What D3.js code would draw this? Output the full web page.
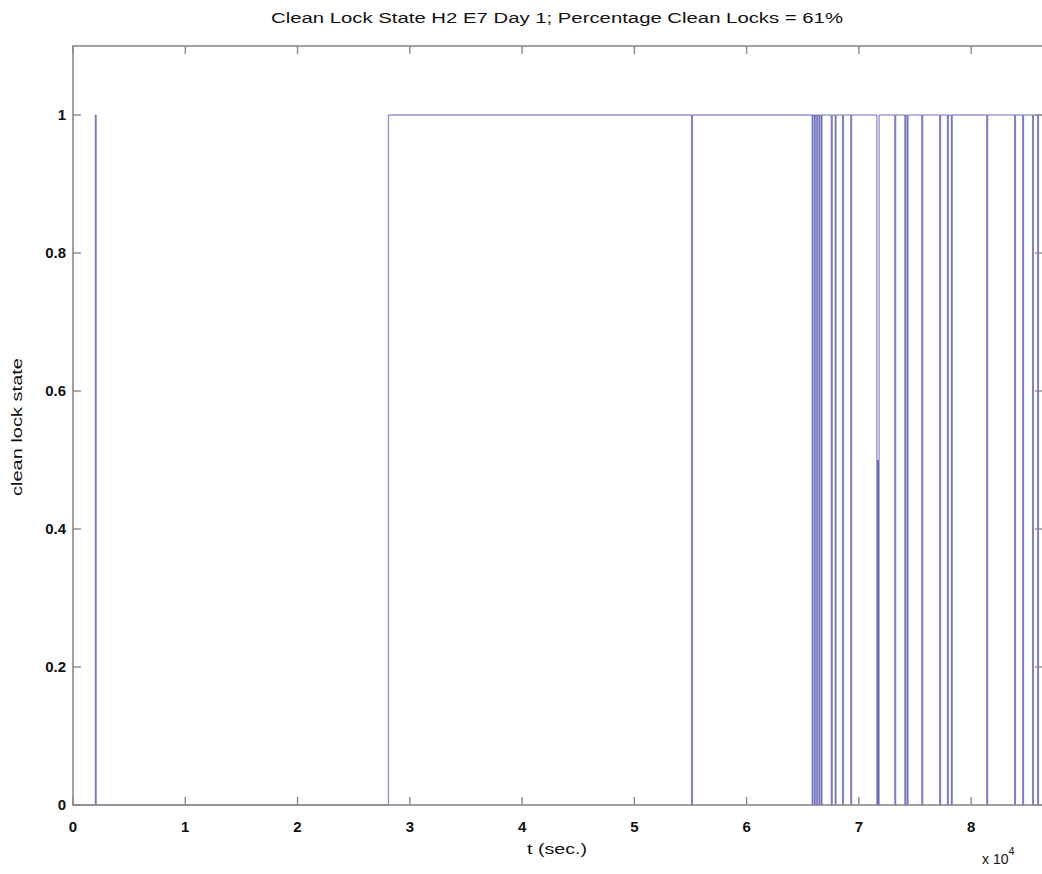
<!DOCTYPE html>
<html>
<head>
<meta charset="utf-8">
<script src="https://cdn.jsdelivr.net/npm/d3@7"></script>
<style>
  html, body { margin: 0; padding: 0; background: #fff; }
  svg { display: block; }
  text { font-family: "Liberation Sans", Arial, Helvetica, sans-serif; fill: #111; }
</style>
</head>
<body>
<svg id="chart" width="1042" height="874"></svg>
<script>
// ---- data ----
const titleText = "Clean Lock State H2 E7 Day 1; Percentage Clean Locks = 61%";
const xLabel = "t (sec.)";
const yLabel = "clean lock state";
const xTicks = [0, 10000, 20000, 30000, 40000, 50000, 60000, 70000, 80000];
const xTickLabels = ["0", "1", "2", "3", "4", "5", "6", "7", "8"];
const yTicks = [0, 0.2, 0.4, 0.6, 0.8, 1];
const yTickLabels = ["0", "0.2", "0.4", "0.6", "0.8", "1"];
// step points: time (s) and clean lock state from that time on
const tTimes = [0, 2000, 2060, 28100, 55100, 55170,
  65850, 65910, 66050, 66110, 66250, 66310, 66450, 66510, 66650, 66710,
  67550, 67630, 67900, 67960, 68550, 68620, 69280, 69340,
  71600, 71700, 71710, 71800,
  73200, 73270, 74090, 74170, 74300, 74380, 75600, 75680,
  77200, 77270, 77900, 77960, 78250, 78310,
  81390, 81460, 83880, 83940, 84600, 84660, 85480, 85540, 85930, 85990, 86400];
const lockState = [0, 1, 0, 1, 0, 1,
  0, 1, 0, 1, 0, 1, 0, 1, 0, 1,
  0, 1, 0, 1, 0, 1, 0, 1,
  0, 0.5, 0, 1,
  0, 1, 0, 1, 0, 1, 0, 1,
  0, 1, 0, 1, 0, 1,
  0, 1, 0, 1, 0, 1, 0, 1, 0, 1, 1];

// ---- layout ----
const svg = d3.select("#chart");
const m = { left: 73, right: 1043, top: 46, bottom: 805 };
const x = d3.scaleLinear().domain([0, 86400]).range([m.left, m.right]);
const y = d3.scaleLinear().domain([0, 1.1]).range([m.bottom, m.top]);

// ---- data line (drawn as individual segments so overlaps darken) ----
const pts = [];
tTimes.forEach((t, i) => {
  if (i > 0) pts.push([t, lockState[i - 1]]);
  pts.push([t, lockState[i]]);
});
const segs = d3.pairs(pts).filter(([a, b]) => !(a[0] === b[0] && a[1] === b[1]));
svg.append("g")
  .selectAll("line")
  .data(segs)
  .join("line")
  .attr("x1", d => x(d[0][0])).attr("y1", d => y(d[0][1]))
  .attr("x2", d => x(d[1][0])).attr("y2", d => y(d[1][1]))
  .attr("stroke", "#2e2e9a")
  .attr("stroke-opacity", 0.5)
  .attr("stroke-width", 1.4);

// ---- axes box ----
const axisColor = "#8a8a8a";
svg.append("rect")
  .attr("x", m.left).attr("y", m.top)
  .attr("width", m.right - m.left).attr("height", m.bottom - m.top)
  .attr("fill", "none").attr("stroke", axisColor).attr("stroke-width", 1.6);

const tickLen = 8;
const gx = svg.append("g");
xTicks.forEach((t, i) => {
  gx.append("line").attr("x1", x(t)).attr("x2", x(t))
    .attr("y1", m.bottom).attr("y2", m.bottom - tickLen)
    .attr("stroke", axisColor).attr("stroke-width", 1.4);
  gx.append("line").attr("x1", x(t)).attr("x2", x(t))
    .attr("y1", m.top).attr("y2", m.top + tickLen)
    .attr("stroke", axisColor).attr("stroke-width", 1.4);
  gx.append("text").attr("x", x(t)).attr("y", 832)
    .attr("text-anchor", "middle").attr("font-size", 15)
    .attr("font-weight", "bold")
    .text(xTickLabels[i]);
});
const gy = svg.append("g");
yTicks.forEach((v, i) => {
  gy.append("line").attr("x1", m.left).attr("x2", m.left + tickLen)
    .attr("y1", y(v)).attr("y2", y(v))
    .attr("stroke", axisColor).attr("stroke-width", 1.4);
  gy.append("line").attr("x1", m.right).attr("x2", m.right - tickLen)
    .attr("y1", y(v)).attr("y2", y(v))
    .attr("stroke", axisColor).attr("stroke-width", 1.4);
  gy.append("text").attr("x", 66).attr("y", y(v) + 5)
    .attr("text-anchor", "end").attr("font-size", 15)
    .attr("font-weight", "bold")
    .text(yTickLabels[i]);
});

// ---- texts ----
svg.append("text").attr("x", 557).attr("y", 23)
  .attr("text-anchor", "middle").attr("font-size", 14)
  .attr("textLength", 572).attr("lengthAdjust", "spacingAndGlyphs")
  .text(titleText);
svg.append("text").attr("x", 557).attr("y", 854)
  .attr("text-anchor", "middle").attr("font-size", 14)
  .attr("textLength", 60).attr("lengthAdjust", "spacingAndGlyphs")
  .text(xLabel);
svg.append("text")
  .attr("transform", "translate(22,427) rotate(-90)")
  .attr("text-anchor", "middle").attr("font-size", 14)
  .attr("textLength", 138).attr("lengthAdjust", "spacingAndGlyphs")
  .text(yLabel);
const mult = svg.append("text").attr("x", 982).attr("y", 864).attr("font-size", 14);
mult.append("tspan").text("x 10");
mult.append("tspan").attr("dy", -9).attr("font-size", 11).text("4");
</script>
</body>
</html>
